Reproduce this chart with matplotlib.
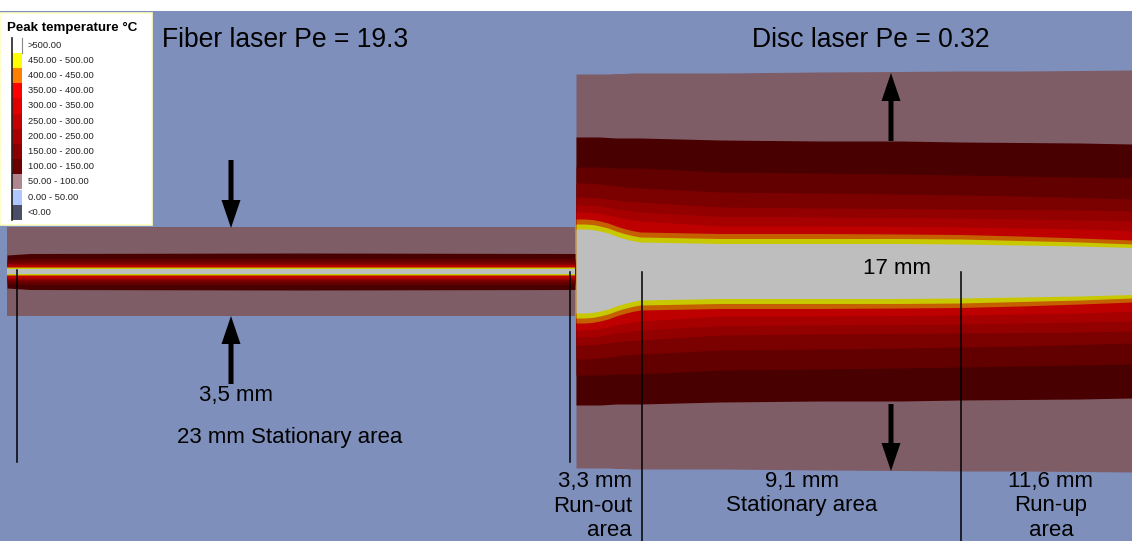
import matplotlib.pyplot as plt
import numpy as np
from matplotlib.patches import Rectangle

plt.rcParams['font.family'] = ['Liberation Sans', 'DejaVu Sans']

# legend classes
legend_labels = ['>500.00', '450.00 - 500.00', '400.00 - 450.00', '350.00 - 400.00',
                 '300.00 - 350.00', '250.00 - 300.00', '200.00 - 250.00', '150.00 - 200.00',
                 '100.00 - 150.00', '50.00 - 100.00', '0.00 - 50.00', '<0.00']
legend_colors = ['#ffffff', '#ffff00', '#ff8000', '#ff0000', '#e00000', '#c60000',
                 '#aa0000', '#8c0000', '#6c0000', '#b0868f', '#aec8ff', '#4a4e66']

# colours of the bands as shown in the picture (outer -> inner)
band_colors = ['#7f5d67', '#480000', '#620000', '#7b0000', '#930000',
               '#a70000', '#bf0000', '#c46000', '#c8c800', '#bebebe']
bg_color = '#7e8fbb'

# fiber laser: position along the weld and half width of each isotherm (50 ... 500 °C)
fiber_x = [7, 30, 300, 575]
fiber_center = 271.5
fiber_edges = [
    [44.5, 44.5, 44.5, 44.5],   # 50
    [16.5, 18, 18.5, 18],       # 100
    [12, 13, 13, 13],           # 150
    [9.5, 10, 10, 10],          # 200
    [8, 8, 8, 8],               # 250
    [7, 7, 7, 7],               # 300
    [6, 6, 6, 6],               # 350
    [4.5, 4.5, 4.5, 4.5],       # 400
    [3.5, 3.5, 3.5, 3.5],       # 450
    [2.5, 2.5, 2.5, 2.5],       # 500
]

# disc laser
disc_x = [576, 584, 592, 600, 608, 616, 624, 632, 640, 720, 820, 900, 960, 1020, 1080, 1132]
disc_center = 271
disc_edges = [
    [197, 197, 197, 197, 197, 197.5, 197.5, 198, 198, 198, 199, 199.5, 200, 200, 200.5, 201],   # 50
    [134, 134, 134, 134, 133.5, 133, 133, 133, 133, 131, 130, 130, 129, 128.5, 128, 127],       # 100
    [104, 104, 104, 104, 103.5, 103, 103, 103, 103, 99, 98, 97, 96, 95, 94, 93],               # 150
    [88, 88, 87.5, 87, 86, 85, 84, 83.5, 83, 79, 78, 77, 76, 75, 73.5, 72],                    # 200
    [74, 74, 73.5, 73, 72, 71, 70, 69.5, 69, 64, 63, 62.5, 62, 61.5, 61, 60],                  # 250
    [66, 66, 65.5, 65, 63.5, 62, 61, 60, 59, 54.5, 54, 53.5, 53, 52, 51, 50],                  # 300
    [59, 59, 58.5, 57.5, 56, 54, 52.5, 51, 50, 45, 45, 44.5, 44, 43, 42, 40],                  # 350
    [52, 52, 51.5, 50, 48, 45, 42.5, 40.5, 39, 37.5, 37.5, 37, 36.5, 35, 33, 31],              # 400
    [47, 47, 46.5, 45, 43, 40, 37.5, 35.5, 34, 32.5, 32.5, 32.5, 32, 30.5, 29, 27],            # 450
    [42, 42, 41.5, 40, 38, 35, 32.5, 30.5, 29, 27.5, 27.5, 27.5, 27, 26, 25, 23.5],            # 500
]

fig = plt.figure(figsize=(11.32, 5.41), dpi=100)
ax = fig.add_axes([0, 0, 1, 1])
ax.set_xlim(0, 1132)
ax.set_ylim(541, 0)
ax.axis('off')
ax.axhspan(11, 541, color=bg_color, lw=0)


def draw_bands(x, center, edges):
    x = np.array(x, dtype=float)
    for hw, col in zip(edges, band_colors):
        hw = np.array(hw, dtype=float)
        ax.fill_between(x, center - hw, center + hw, color=col, lw=0)


draw_bands(fiber_x, fiber_center, fiber_edges)
draw_bands(disc_x, disc_center, disc_edges)

# thin marker lines
for xl, y0, y1 in [(17, 270, 462), (570, 272, 462), (642, 272, 541), (961, 272, 541)]:
    ax.plot([xl, xl], [y0, y1], color='black', lw=1.1)

# arrows
arr = dict(width=5, head_width=19, head_length=28, length_includes_head=True,
           color='black', lw=0)
ax.arrow(231, 160, 0, 68, **arr)
ax.arrow(231, 384, 0, -68, **arr)
ax.arrow(891, 141, 0, -68, **arr)
ax.arrow(891, 404, 0, 67, **arr)

# texts
ax.text(162, 47, 'Fiber laser Pe = 19.3', fontsize=19.1, ha='left', va='baseline')
ax.text(752, 47, 'Disc laser Pe = 0.32', fontsize=19.1, ha='left', va='baseline')
fs = 16
ax.text(236, 396, '3,5 mm', fontsize=fs, ha='center', va='center')
ax.text(290, 438, '23 mm Stationary area', fontsize=fs, ha='center', va='center')
ax.text(897, 268, '17 mm', fontsize=fs, ha='center', va='center')
ax.text(632, 482, '3,3 mm', fontsize=fs, ha='right', va='center')
ax.text(632, 506, 'Run-out', fontsize=fs, ha='right', va='center')
ax.text(632, 530, 'area', fontsize=fs, ha='right', va='center')
ax.text(802, 482, '9,1 mm', fontsize=fs, ha='center', va='center')
ax.text(802, 506, 'Stationary area', fontsize=fs, ha='center', va='center')
ax.text(1051, 482, '11,6 mm', fontsize=fs, ha='center', va='center')
ax.text(1051, 506, 'Run-up', fontsize=fs, ha='center', va='center')
ax.text(1051, 530, 'area', fontsize=fs, ha='center', va='center')

# legend box
ax.add_patch(Rectangle((0, 13), 152, 212, facecolor='white', edgecolor='#ffffc0', lw=1.2))
ax.text(7, 31, 'Peak temperature °C', fontsize=9.6, fontweight='bold', ha='left', va='baseline')
step = 15.2
for i, (lab, col) in enumerate(zip(legend_labels, legend_colors)):
    top = 37.5 + i * step
    ax.add_patch(Rectangle((12, top), 10, step, facecolor=col, lw=0))
    ax.text(28, top + step / 2, lab, fontsize=6.7, ha='left', va='center', color='#222222')
# black bar on the left of the colour column, small tick at top right
ax.plot([12, 12], [37.5, 37.5 + step * len(legend_labels)], color='#222222', lw=1.2)
ax.plot([22, 22], [37.5, 37.5 + step], color='#888888', lw=0.8)

plt.savefig('out.png', dpi=100)
